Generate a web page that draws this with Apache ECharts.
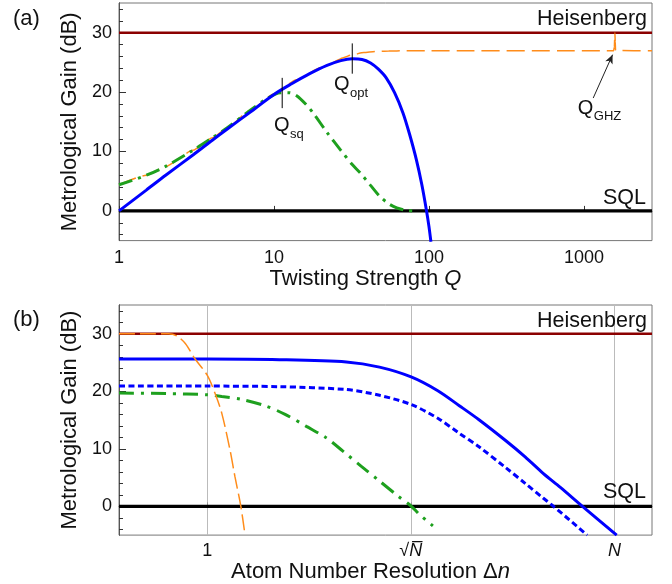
<!DOCTYPE html>
<html><head><meta charset="utf-8">
<script src="https://cdn.jsdelivr.net/npm/echarts@6/dist/echarts.min.js"></script>
<style>html,body{margin:0;padding:0;background:#fff}#c{width:672px;height:584px}</style>
</head><body><div id="c"></div>
<script>
// ---- data ----
const heisenbergDB = 30;
const sqlDB = 0;
const qRange = [1, 2750];
const dnRange = [0.224, 1893];
const qTicks = [1, 10, 100, 1000];
const qTickLabels = ['1', '10', '100', '1000'];
const dnTicks = [1, 31.62, 1000];
const dnTickLabels = ['1', '√N', 'N'];
const yMajorTicks = [0, 10, 20, 30];
const yAllTicks = [-4, -2, 0, 2, 4, 6, 8, 10, 12, 14, 16, 18, 20, 22, 24, 26, 28, 30, 32, 34];

// panel (a): gain vs twisting strength Q
const aBlue = [[1,0],[1.5,3.5],[2,6.0],[3,9.4],[4,11.9],[5,13.8],[7,16.6],[10,19.6],[13,21.4],[17,23.1],[22,24.5],[27,25.3],[32,25.6],[37,25.5],[42,24.9],[47,23.9],[53,22.4],[60,19.9],[68,16.5],[75,12.9],[83,8.6],[90,4.4],[96.5,0],[100,-2.6],[103,-5.2]];
const aOrange = [[1,4.4],[1.5,6.0],[2,7.5],[3,10.2],[4,12.3],[5,14.0],[7,16.9],[10,19.7],[14,22.1],[20,24.1],[24,25.0],[28,25.8],[32,26.3],[38,26.65],[45,26.85],[55,26.93],[70,26.95],[100,26.95],[1555,26.95],[1572,27.6],[1585,30],[1592,28.5],[1600,27.0],[1615,26.95],[2750,26.95]];
const aGreen = [[1,4.4],[1.5,6.0],[2,7.5],[3,10.2],[4,12.3],[5,14.0],[7,16.9],[9,18.9],[11,19.9],[12.5,19.9],[14,19.4],[16,18.0],[18,16.4],[22,13.2],[27,10.2],[32,7.8],[36,6.4],[42,4.3],[48,2.5],[55,1.2],[62,0.5],[70,0.15],[78,0.0]];

// panel (b): gain vs atom number resolution Δn
const bOrange = [[0.224,30],[0.4,30],[0.52,30],[0.6,29.6],[0.69,28.3],[0.81,25.7],[1.0,22.8],[1.14,19.7],[1.28,16.2],[1.47,9.9],[1.6,5.2],[1.77,0],[1.9,-5]];
const bBlue = [[0.224,25.6],[1,25.6],[3.4,25.5],[10.6,25.1],[18.6,24.2],[31.8,22.5],[50,20.1],[72,17.5],[100,15.1],[158.7,11.4],[220,8.6],[300,5.7],[400,3.3],[582,0],[1040,-5]];
const bBlueDash = [[0.224,20.9],[1,20.9],[3.4,20.8],[10.6,20.3],[18.6,19.3],[31.8,17.7],[50,15.3],[72,12.7],[100,10.4],[158.7,6.7],[220,4.0],[300,1.4],[356,0],[630,-5]];
const bGreen = [[0.224,19.7],[0.5,19.6],[1,19.4],[1.28,19.1],[1.79,18.6],[2.66,17.5],[3.75,16.0],[5.38,13.9],[7.55,11.9],[10,9.6],[13.6,7.0],[18.6,4.4],[25.4,1.8],[31.8,0.05],[36.6,-1.4],[46,-3.4]];

// annotations (data coordinates)
const qSqAt = 11.3, qSqSpan = [17.3, 22.4];
const qOptAt = 32, qOptSpan = [23.1, 28.2];
const qSqLabel = [10.0, 14.3];
const qOptLabel = [24.4, 21.2];
const qGhzLabel = [914, 17.3];
const qGhzArrow = [[1148, 19.0], [1531, 26.3]];

// ---- styles ----
const FONT = 'Liberation Sans, Arial, sans-serif';
const AX = '#555';
const C_H = '#8b0000', C_B = '#0000ff', C_O = '#ff8c1a', C_G = '#1ea01e';

function yAxes(grid) {
  return [{
    gridIndex: grid, type: 'value', min: -5, max: 35, position: 'left',
    name: 'Metrological Gain (dB)', nameLocation: 'middle', nameGap: 30,
    nameTextStyle: { fontFamily: FONT, fontSize: 22, color: '#111' },
    axisLine: { show: true, lineStyle: { color: AX, width: 1 } },
    axisTick: { show: true, inside: true, length: 4, customValues: yAllTicks, lineStyle: { color: '#333' } },
    axisLabel: { customValues: yMajorTicks, fontFamily: FONT, fontSize: 18, color: '#111', margin: 7 },
    splitLine: { show: false }
  }, {
    gridIndex: grid, type: 'value', min: -5, max: 35, position: 'left', offset: 0,
    axisLine: { show: true, lineStyle: { color: AX, width: 1 } },
    axisTick: { show: true, inside: true, length: 7, customValues: yMajorTicks, lineStyle: { color: '#333' } },
    axisLabel: { show: false }, splitLine: { show: false }
  }];
}

const option = {
  animation: false,
  backgroundColor: '#fff',
  grid: [
    { left: 119, right: 20, top: 3, height: 237.6, show: true, borderColor: '#777', borderWidth: 1 },
    { left: 119, right: 20, top: 305, height: 231, show: true, borderColor: '#777', borderWidth: 1 }
  ],
  xAxis: [{
    gridIndex: 0, type: 'log', logBase: 10, min: qRange[0], max: qRange[1],
    name: 'Twisting Strength {i|Q}', nameLocation: 'middle', nameGap: 24,
    nameTextStyle: { fontFamily: FONT, fontSize: 22, color: '#111', verticalAlign: 'top', padding: [0, 40, 0, 0],
      rich: { i: { fontStyle: 'italic', fontFamily: FONT, fontSize: 22, color: '#111' } } },
    axisLine: { show: true, lineStyle: { color: AX } },
    axisTick: { show: true, inside: true, length: 5, customValues: qTicks, lineStyle: { color: '#333' } },
    axisLabel: { customValues: qTicks, fontFamily: FONT, fontSize: 18, color: '#111', margin: 8,
      formatter: v => { const i = qTicks.findIndex(t => Math.abs(t - v) / t < 1e-3); return i >= 0 ? qTickLabels[i] : ''; } },
    splitLine: { show: false }
  }, {
    gridIndex: 1, type: 'log', logBase: 10, min: dnRange[0], max: dnRange[1],
    name: 'Atom Number Resolution Δ{i|n}', nameLocation: 'middle', nameGap: 24,
    nameTextStyle: { fontFamily: FONT, fontSize: 22, color: '#111', verticalAlign: 'top', padding: [0, 30, 0, 0],
      rich: { i: { fontStyle: 'italic', fontFamily: FONT, fontSize: 22, color: '#111' } } },
    axisLine: { show: true, lineStyle: { color: AX } },
    axisTick: { show: true, inside: true, length: 4, customValues: dnTicks, lineStyle: { color: '#999' } },
    axisLabel: { customValues: dnTicks, fontFamily: FONT, fontSize: 18, color: '#111', margin: 7,
      formatter: v => { const i = dnTicks.findIndex(t => Math.abs(t - v) / t < 1e-2);
        if (i === 1) return '{r|√}{n|N\u0305}'; if (i === 2) return '{n|N}'; return i >= 0 ? dnTickLabels[i] : ''; },
      rich: { r: { fontFamily: FONT, fontSize: 18, color: '#111' }, n: { fontFamily: FONT, fontSize: 18, fontStyle: 'italic', color: '#111' } } },
    splitLine: { show: true, lineStyle: { color: '#bbb', width: 1 } }
  }],
  yAxis: [...yAxes(0), ...yAxes(1)],
  series: []
};

function line(xi, yi, data, color, width, type, extra) {
  return Object.assign({ type: 'line', xAxisIndex: xi, yAxisIndex: yi, data, showSymbol: false, symbol: 'none', silent: true,
    lineStyle: { color, width, type: type || 'solid', cap: 'butt' }, z: 2 }, extra || {});
}

option.series.push(
  line(0, 0, [[qRange[0], heisenbergDB], [qRange[1], heisenbergDB]], C_H, 2.5),
  line(0, 0, [[qRange[0], sqlDB], [qRange[1], sqlDB]], '#000', 3.2),
  line(0, 0, aOrange, C_O, 1.5, [18, 7], { smooth: 0.2, smoothMonotone: 'x' }),
  line(0, 0, aGreen, C_G, 3, [14, 6, 3, 6], { smooth: 0.3 }),
  line(0, 0, aBlue, C_B, 3, 'solid', { smooth: 0.3 }),
  line(0, 0, [[qSqAt, qSqSpan[0]], [qSqAt, qSqSpan[1]]], '#000', 1),
  line(0, 0, [[qOptAt, qOptSpan[0]], [qOptAt, qOptSpan[1]]], '#000', 1, 'solid', {
    markLine: { silent: true, symbol: ['none', 'arrow'], symbolSize: [6, 9], label: { show: false },
      lineStyle: { color: '#222', width: 1, type: 'solid' },
      data: [[{ coord: qGhzArrow[0] }, { coord: qGhzArrow[1] }]] }
  }),
  line(1, 2, [[dnRange[0], heisenbergDB], [dnRange[1], heisenbergDB]], C_H, 2.5),
  line(1, 2, [[dnRange[0], sqlDB], [dnRange[1], sqlDB]], '#000', 3.2),
  line(1, 2, bGreen, C_G, 3, [15, 7, 3, 7], { smooth: 0.3 }),
  line(1, 2, bBlueDash, C_B, 3, [6, 3.5], { smooth: 0.3 }),
  line(1, 2, bBlue, C_B, 3, 'solid', { smooth: 0.3 }),
  line(1, 2, bOrange, C_O, 1.5, [16, 5], { smooth: 0.3 })
);

const chart = echarts.init(document.getElementById('c'), null, { renderer: 'canvas' });
chart.setOption(option);

function px(grid, pt) { return chart.convertToPixel({ xAxisIndex: grid, yAxisIndex: grid * 2 }, pt); }
function txt(x, y, text, size, align, va) {
  return { type: 'text', x, y, silent: true, z: 100,
    style: { text, fontFamily: FONT, fontSize: size, fill: '#111', align: align || 'left', verticalAlign: va || 'middle' } };
}
function qLabel(grid, at, sub) {
  const p = px(grid, at);
  return [txt(p[0], p[1], 'Q', 20, 'left', 'middle'), txt(p[0] + 16, p[1] + 8, sub, 13, 'left', 'middle')];
}
const hA = px(0, [qRange[1], heisenbergDB]), sA = px(0, [qRange[1], sqlDB]);
const hB = px(1, [dnRange[1], heisenbergDB]), sB = px(1, [dnRange[1], sqlDB]);
chart.setOption({ graphic: [
  txt(13, 19, '(a)', 22, 'left', 'middle'),
  txt(13, 320, '(b)', 22, 'left', 'middle'),
  txt(hA[0] - 5, hA[1] - 3, 'Heisenberg', 21.5, 'right', 'bottom'),
  txt(sA[0] - 6, sA[1] - 2, 'SQL', 21.5, 'right', 'bottom'),
  txt(hB[0] - 5, hB[1] - 2, 'Heisenberg', 21.5, 'right', 'bottom'),
  txt(sB[0] - 6, sB[1] - 3, 'SQL', 21.5, 'right', 'bottom'),
  ...qLabel(0, qSqLabel, 'sq'),
  ...qLabel(0, qOptLabel, 'opt'),
  ...qLabel(0, qGhzLabel, 'GHZ')
] });
</script></body></html>
